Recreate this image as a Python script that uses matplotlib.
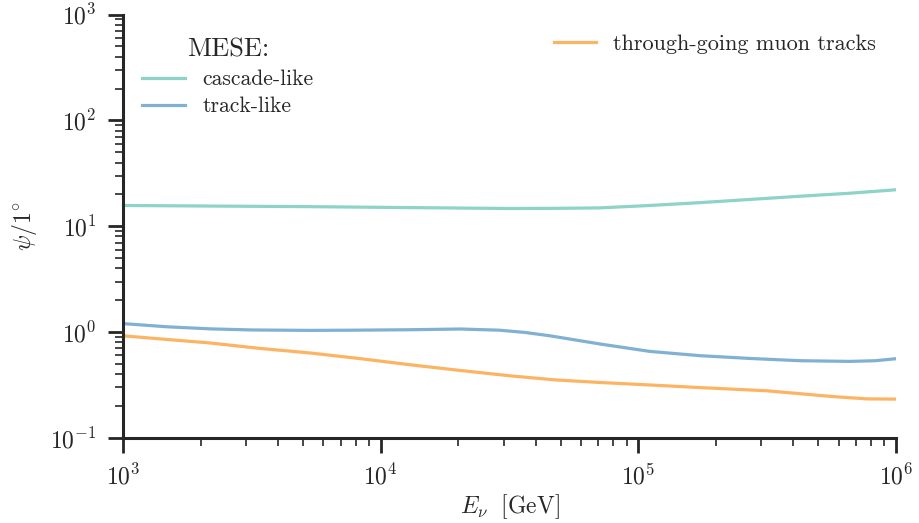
import numpy as np
import matplotlib
matplotlib.use("Agg")
import matplotlib.pyplot as plt

# Angular resolution psi (degrees) versus neutrino energy, log10(E / GeV)
cascade_logE = [3.0, 3.35, 3.726, 4.1, 4.502, 4.68, 4.851, 5.045, 5.239, 5.433, 5.627, 5.821, 6.0]
cascade_like = [15.7, 15.5, 15.3, 15.0, 14.7, 14.75, 14.9, 15.7, 16.7, 17.9, 19.2, 20.5, 22.1]

track_logE = [3.0, 3.17, 3.338, 3.5, 3.726, 3.9, 4.114, 4.308, 4.46, 4.56, 4.657, 4.75, 4.851,
              5.045, 5.239, 5.433, 5.627, 5.821, 5.92, 6.0]
track_like = [1.20, 1.12, 1.07, 1.045, 1.035, 1.04, 1.05, 1.067, 1.04, 0.99, 0.92, 0.845, 0.77,
              0.655, 0.597, 0.562, 0.535, 0.527, 0.535, 0.559]

muon_logE = [3.0, 3.17, 3.338, 3.53, 3.726, 3.92, 4.114, 4.3, 4.502, 4.68, 4.851,
             5.05, 5.239, 5.499, 5.755, 5.887, 6.0]
muon_tracks = [0.92, 0.85, 0.787, 0.70, 0.633, 0.56, 0.49, 0.435, 0.385, 0.352, 0.333,
               0.315, 0.298, 0.278, 0.245, 0.233, 0.232]

labels_mese = ["cascade-like", "track-like"]
label_muon = "through-going muon tracks"
colors = {"cascade": "#8dd3c7", "track": "#80b1d3", "muon": "#fdb462"}

ink = "#262626"
plt.rcParams.update({
    "font.family": "serif",
    "font.serif": ["cmr10"],
    "mathtext.fontset": "cm",
    "axes.formatter.use_mathtext": True,
    "axes.unicode_minus": True,
    "text.color": ink,
    "axes.labelcolor": ink,
    "xtick.color": ink,
    "ytick.color": ink,
    "axes.edgecolor": ink,
})

fig = plt.figure(figsize=(9.19, 5.23), dpi=100)
ax = fig.add_axes([0.1338, 0.163, 0.975 - 0.1338, 0.972 - 0.163])

lw = 2.3
l1, = ax.plot(10 ** np.asarray(cascade_logE), cascade_like, color=colors["cascade"], lw=lw,
              label=labels_mese[0])
l2, = ax.plot(10 ** np.asarray(track_logE), track_like, color=colors["track"], lw=lw,
              label=labels_mese[1])
l3, = ax.plot(10 ** np.asarray(muon_logE), muon_tracks, color=colors["muon"], lw=lw,
              label=label_muon)

ax.set_xscale("log")
ax.set_yscale("log")
ax.set_xlim(1e3, 1e6)
ax.set_ylim(1e-1, 1e3)

for side in ("top", "right"):
    ax.spines[side].set_visible(False)
for side in ("left", "bottom"):
    ax.spines[side].set_linewidth(2.2)

ax.tick_params(which="major", direction="out", length=11, width=2.0, labelsize=17, pad=8)
ax.tick_params(which="minor", direction="out", length=6, width=1.2)

ax.set_xlabel(r"$E_\nu\ \ [\mathrm{GeV}]$", fontsize=17, labelpad=2)
ax.set_ylabel(r"$\psi/1^{\circ}$", fontsize=17, labelpad=8)

leg1 = ax.legend(handles=[l1, l2], loc="upper left", bbox_to_anchor=(0.0, 0.99),
                 frameon=False, fontsize=15.5, title="MESE:", handlelength=2.0,
                 labelspacing=0.35, handletextpad=0.8)
leg1.get_title().set_fontsize(19)
ax.add_artist(leg1)
ax.legend(handles=[l3], loc="upper right", bbox_to_anchor=(1.0, 1.0),
          frameon=False, fontsize=16, handlelength=1.9, handletextpad=0.75)

fig.savefig("out.png", dpi=100)
